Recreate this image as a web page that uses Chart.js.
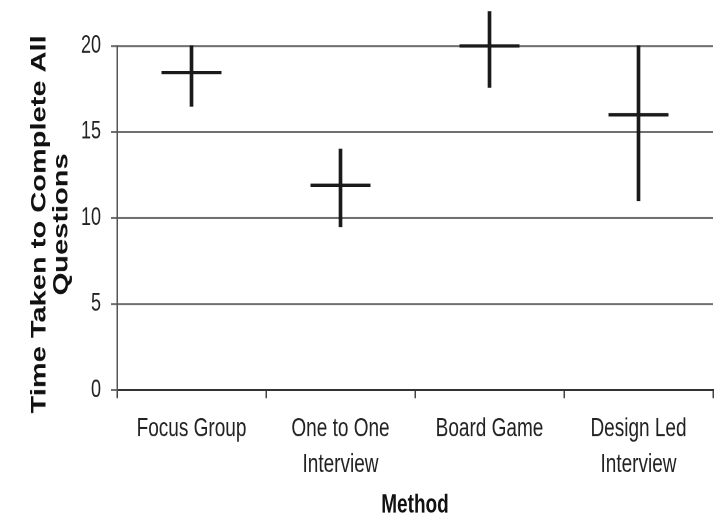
<!DOCTYPE html>
<html>
<head>
<meta charset="utf-8">
<script src="https://cdn.jsdelivr.net/npm/chart.js@4/dist/chart.umd.min.js"></script>
<style>
  html, body { margin: 0; padding: 0; background: #ffffff; }
  #page { width: 726px; height: 520px; overflow: hidden; position: relative; }
  /* The figure is drawn on a shorter canvas and stretched vertically,
     which gives the tall, narrow lettering of the printed figure. */
  #wrap { position: absolute; left: 0; top: 0; width: 726px; height: 385px; transform: scaleY(1.3506); transform-origin: 0 0; }
</style>
</head>
<body>
<div id="page"><div id="wrap"><canvas id="chart" width="726" height="385"></canvas></div></div>
<script>
// Time taken to complete all questions, by method: mean with min-max range
const methods = [['Focus Group'], ['One to One', 'Interview'], ['Board Game'], ['Design Led', 'Interview']];
const meanTimes = [18.45, 11.9, 20.0, 16.0];
const lowTimes  = [16.5, 9.5, 17.6, 11.0];
const highTimes = [20.0, 14.0, 22.0, 20.0];
const yTickStep = 5;
const yMin = 0;
const yMax = 20;
const yTitleLines = ['Time Taken to Complete All', 'Questions'];
const xTitle = 'Method';

const FONT = "'Liberation Sans', Arial, Helvetica, sans-serif";
const INK = '#1a1a1a';

const ranges = lowTimes.map((lo, i) => [lo, highTimes[i]]);

// Y-axis title drawn at full length (the built-in title would squeeze it to the plot height)
const yTitlePlugin = {
  id: 'yTitleFull',
  afterDraw(chart) {
    const ctx = chart.ctx;
    const area = chart.chartArea;
    ctx.save();
    ctx.translate(39.5, (area.top + area.bottom) / 2 + 4.7);
    ctx.rotate(-Math.PI / 2);
    ctx.font = 'bold 21.5px ' + FONT;
    ctx.fillStyle = '#111';
    ctx.textAlign = 'center';
    ctx.textBaseline = 'middle';
    yTitleLines.forEach((line, i) => ctx.fillText(line, 0, i * 22));
    ctx.restore();
  }
};

new Chart(document.getElementById('chart'), {
  type: 'bar',
  data: {
    labels: methods,
    datasets: [
      {
        // mean: short horizontal stroke
        type: 'line',
        data: meanTimes,
        showLine: false,
        pointStyle: 'line',
        pointRadius: 30,
        pointHoverRadius: 30,
        borderColor: INK,
        pointBorderColor: INK,
        pointBackgroundColor: INK,
        pointBorderWidth: 2.6,
        clip: false
      },
      {
        // range: thin vertical stroke from min to max
        type: 'bar',
        data: ranges,
        backgroundColor: INK,
        borderWidth: 0,
        barThickness: 3,
        clip: false
      }
    ]
  },
  plugins: [yTitlePlugin],
  options: {
    responsive: false,
    devicePixelRatio: 2,
    animation: false,
    events: [],
    layout: { autoPadding: false, padding: { top: 34, right: 13, bottom: 0, left: 0 } },
    plugins: { legend: { display: false }, tooltip: { enabled: false } },
    scales: {
      x: {
        offset: true,
        grid: { offset: true, drawOnChartArea: false, drawTicks: true, tickLength: 6, color: '#444', lineWidth: 1.5 },
        border: { color: '#333', width: 1.5 },
        ticks: { font: { family: FONT, size: 19, lineHeight: 1.4 }, color: '#222', padding: 9.5, maxRotation: 0, autoSkip: false },
        title: { display: true, text: xTitle, color: '#111', font: { family: FONT, size: 19, weight: 'bold', lineHeight: 1 }, padding: { top: 0, bottom: 1 } },
        afterFit(scale) {
          scale.height = 96.2;
          scale.paddingLeft = 0;
          scale.paddingRight = 0;
        }
      },
      y: {
        min: yMin,
        max: yMax,
        ticks: { stepSize: yTickStep, font: { family: FONT, size: 18 }, color: '#222', padding: 10 },
        grid: { color: '#707070', lineWidth: 1.5, tickLength: 6 },
        border: { color: '#555', width: 1.5 },
        title: { display: false },
        afterFit(scale) {
          scale.width = 117;
          scale.paddingTop = 0;
          scale.paddingBottom = 0;
        }
      }
    }
  }
});
</script>
</body>
</html>
